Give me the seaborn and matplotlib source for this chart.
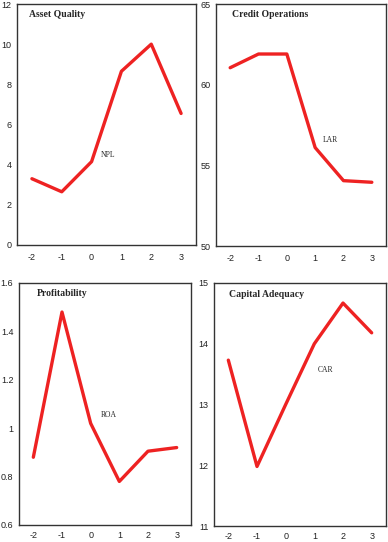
import pandas as pd
import matplotlib
matplotlib.use("Agg")
import matplotlib.pyplot as plt
from matplotlib.ticker import FixedLocator
import seaborn as sns

# Data
periods = ["-2", "-1", "0", "1", "2", "3"]
npl = [3.3, 2.65, 4.15, 8.65, 10.0, 6.55]
lar = [61.05, 61.9, 61.9, 56.1, 54.05, 53.95]
roa = [0.88, 1.48, 1.02, 0.78, 0.905, 0.92]
car = [13.73, 11.98, 13.0, 14.0, 14.67, 14.18]

titles = ["Asset Quality", "Credit Operations", "Profitability", "Capital Adequacy"]
series_names = ["NPL", "LAR", "ROA", "CAR"]
series = [npl, lar, roa, car]
ylims = [(0, 12), (50, 65), (0.6, 1.6), (11, 15)]
yticks = [[0, 2, 4, 6, 8, 10, 12], [50, 55, 60, 65],
          [0.6, 0.8, 1.0, 1.2, 1.4, 1.6], [11, 12, 13, 14, 15]]
ytick_labels = [["0", "2", "4", "6", "8", "10", "12"], ["50", "55", "60", "65"],
                ["0.6", "0.8", "1", "1.2", "1.4", "1.6"], ["11", "12", "13", "14", "15"]]
# label placement (category position, value)
label_pos = [(2.3, 4.5), (3.27, 56.6), (2.34, 1.055), (3.13, 13.56)]

sns.set_style("white")
plt.rcParams['font.family'] = ['Liberation Sans', 'DejaVu Sans']

W, H = 388, 542
fig = plt.figure(figsize=(W / 100, H / 100), dpi=100)

# axes boxes in pixels: left, top, right, bottom
boxes = [(17, 4, 196, 245), (216, 4, 386, 246),
         (19, 283, 191, 525), (214, 283, 386, 526)]
# title anchor in axes fraction
title_x = [0.067, 0.094, 0.105, 0.087]
title_y = [0.975, 0.975, 0.975, 0.97]

red = "#ee2222"
for i in range(4):
    l, t, r, b = boxes[i]
    ax = fig.add_axes([l / W, 1 - b / H, (r - l) / W, (b - t) / H])
    df = pd.DataFrame({"period": periods, "value": series[i]})
    sns.lineplot(data=df, x="period", y="value", ax=ax, color=red,
                 linewidth=2.4, sort=False)
    ax.set_xlim(-0.5, 5.5)
    ax.set_ylim(*ylims[i])
    ax.set_yticks(yticks[i])
    ax.set_yticklabels(ytick_labels[i])
    ax.set_xlabel("")
    ax.set_ylabel("")
    ax.xaxis.set_minor_locator(FixedLocator([0.5, 1.5, 2.5, 3.5, 4.5]))
    ax.tick_params(axis="x", which="major", length=0, labelsize=6.5,
                   pad=6 if i < 2 else 4, colors="#222222")
    ax.tick_params(axis="x", which="minor", length=2.5, width=0.8,
                   direction="inout", colors="#333333")
    ax.tick_params(axis="y", which="major", length=2, width=0.6,
                   direction="out", labelsize=6.5, pad=2, colors="#222222")
    for s in ax.spines.values():
        s.set_color("#333333")
        s.set_linewidth(1.0)
    ax.text(title_x[i], title_y[i], titles[i], transform=ax.transAxes,
            ha="left", va="top", fontsize=7, fontweight="bold",
            family=["Liberation Serif", "DejaVu Serif"])
    lx, ly = label_pos[i]
    ax.text(lx, ly, series_names[i], ha="left", va="center", fontsize=5.5,
            family=["Liberation Serif", "DejaVu Serif"])

fig.savefig("out.png", dpi=100)
